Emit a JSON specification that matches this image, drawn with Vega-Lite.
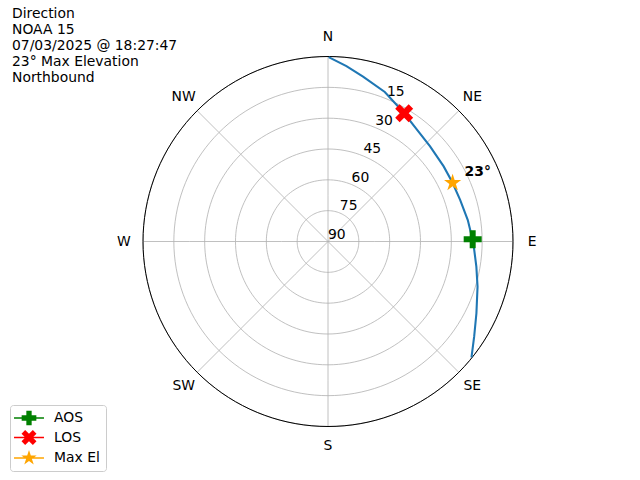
{
  "$schema": "https://vega.github.io/schema/vega-lite/v6.json",
  "width": 640,
  "height": 480,
  "autosize": {"type": "none"},
  "padding": 0,
  "background": "white",
  "config": {
    "view": {"stroke": null},
    "font": "DejaVu Sans",
    "legend": {
      "orient": "none",
      "legendX": 10,
      "legendY": 405,
      "symbolSize": 196,
      "symbolStrokeWidth": 0,
      "symbolOpacity": 1,
      "labelFont": "DejaVu Sans",
      "labelFontSize": 13.9,
      "labelColor": "black",
      "padding": 6,
      "rowPadding": 3.5,
      "labelOffset": 18,
      "symbolOffset": 6,
      "strokeColor": "#cccccc",
      "fillColor": "rgba(255,255,255,0.8)",
      "cornerRadius": 3
    }
  },
  "title": {
    "text": ["Direction", "NOAA 15", "07/03/2025 @ 18:27:47", "23° Max Elevation", "Northbound"],
    "anchor": "start",
    "frame": "group",
    "orient": "top",
    "offset": -96,
    "baseline": "alphabetic",
    "dx": 12,
    "font": "DejaVu Sans",
    "fontSize": 13.9,
    "fontWeight": "normal",
    "color": "black",
    "lineHeight": 16
  },
  "projection": {
    "type": "azimuthalEquidistant",
    "rotate": [0, -90, 0],
    "reflectY": true,
    "scale": 117.77,
    "translate": [328, 241.5]
  },
  "resolve": {"scale": {"color": "independent", "shape": "independent"}},
  "layer": [
    {
      "data": {"graticule": {"extent": [[-180, 0], [180, 90]], "step": [45, 15]}},
      "mark": {"type": "geoshape", "filled": false, "fill": null, "stroke": "#b0b0b0", "strokeWidth": 0.8},
      "encoding": {}
    },
    {
      "data": {"graticule": {"extent": [[-180, 0], [180, 0.001]], "step": [360, 360]}},
      "mark": {"type": "geoshape", "filled": false, "fill": null, "stroke": "black", "strokeWidth": 1},
      "encoding": {}
    },
    {
      "data": {"values": [
        {"label": "90", "az": 22.5, "el": 90},
        {"label": "75", "az": 22.5, "el": 75},
        {"label": "60", "az": 22.5, "el": 60},
        {"label": "45", "az": 22.5, "el": 45},
        {"label": "30", "az": 22.5, "el": 30},
        {"label": "15", "az": 22.5, "el": 15}
      ]},
      "mark": {"type": "text", "align": "left", "baseline": "bottom", "font": "DejaVu Sans", "fontSize": 13.9, "color": "black"},
      "encoding": {
        "longitude": {"field": "az", "type": "quantitative"},
        "latitude": {"field": "el", "type": "quantitative"},
        "text": {"field": "label", "type": "nominal"}
      }
    },
    {
      "data": {"values": [
        {"label": "N", "az": 0, "el": -9.3},
        {"label": "NE", "az": 45, "el": -9.3},
        {"label": "E", "az": 90, "el": -9.3},
        {"label": "SE", "az": 135, "el": -9.3},
        {"label": "S", "az": 180, "el": -9.3},
        {"label": "SW", "az": 225, "el": -9.3},
        {"label": "W", "az": 270, "el": -9.3},
        {"label": "NW", "az": 315, "el": -9.3}
      ]},
      "mark": {"type": "text", "align": "center", "baseline": "middle", "font": "DejaVu Sans", "fontSize": 13.9, "color": "black"},
      "encoding": {
        "longitude": {"field": "az", "type": "quantitative"},
        "latitude": {"field": "el", "type": "quantitative"},
        "text": {"field": "label", "type": "nominal"}
      }
    },
    {
      "data": {"values": [
        {"az": 0.2, "el": 0.3},
        {"az": 6, "el": 4.2},
        {"az": 12, "el": 8.0},
        {"az": 20.8, "el": 12.2},
        {"az": 30.5, "el": 17.3},
        {"az": 37, "el": 20.0},
        {"az": 47, "el": 22.1},
        {"az": 57, "el": 22.9},
        {"az": 64.5, "el": 23.0},
        {"az": 72.5, "el": 22.6},
        {"az": 81.3, "el": 21.2},
        {"az": 90.5, "el": 19.3},
        {"az": 99.6, "el": 16.8},
        {"az": 106.8, "el": 14.0},
        {"az": 115.8, "el": 9.8},
        {"az": 123, "el": 5.2},
        {"az": 128.9, "el": 0.3}
      ]},
      "mark": {"type": "line", "color": "#1f77b4", "strokeWidth": 2.08},
      "encoding": {
        "longitude": {"field": "az", "type": "quantitative"},
        "latitude": {"field": "el", "type": "quantitative"},
        "order": {"field": "az", "type": "quantitative"}
      }
    },
    {
      "data": {"name": "events", "values": [
        {"event": "AOS", "az": 89.1, "el": 19.6},
        {"event": "LOS", "az": 30.7, "el": 17.4},
        {"event": "Max El", "az": 64.8, "el": 23.0}
      ]},
      "layer": [
        {
          "mark": {"type": "point", "filled": true, "opacity": 1, "size": 324},
          "encoding": {
            "longitude": {"field": "az", "type": "quantitative"},
            "latitude": {"field": "el", "type": "quantitative"},
            "shape": {
              "field": "event", "type": "nominal",
              "scale": {
                "domain": ["AOS", "LOS", "Max El"],
                "range": [
                  "M-0.333,-1H0.333V-0.333H1V0.333H0.333V1H-0.333V0.333H-1V-0.333H-0.333Z",
                  "M0.5,-1L1,-0.5L0.5,0L1,0.5L0.5,1L0,0.5L-0.5,1L-1,0.5L-0.5,0L-1,-0.5L-0.5,-1L0,-0.5Z",
                  "M0,-1L0.2245,-0.309L0.951,-0.309L0.363,0.118L0.588,0.809L0,0.382L-0.588,0.809L-0.363,0.118L-0.951,-0.309L-0.2245,-0.309Z"
                ]
              },
              "legend": null
            },
            "color": {
              "field": "event", "type": "nominal",
              "scale": {"domain": ["AOS", "LOS", "Max El"], "range": ["#008000", "#ff0000", "#ffa500"]},
              "legend": null
            }
          }
        },
        {
          "mark": {"type": "point", "filled": true, "opacity": 0},
          "encoding": {
            "longitude": {"field": "az", "type": "quantitative"},
            "latitude": {"field": "el", "type": "quantitative"},
            "shape": {
              "field": "event", "type": "nominal", "title": null,
              "scale": {
                "domain": ["AOS", "LOS", "Max El"],
                "range": [
                  "M-2.14,-0.107H2.14V0.107H-2.14ZM-0.38,-1.05H0.38V-0.38H1.05V0.38H0.38V1.05H-0.38V0.38H-1.05V-0.38H-0.38Z",
                  "M-2.14,-0.107H2.14V0.107H-2.14ZM0.55,-1.07L1.07,-0.55L0.52,0L1.07,0.55L0.55,1.07L0,0.52L-0.55,1.07L-1.07,0.55L-0.52,0L-1.07,-0.55L-0.55,-1.07L0,-0.52Z",
                  "M-2.14,-0.107H2.14V0.107H-2.14ZM0,-1.15L0.26,-0.355L1.094,-0.355L0.418,0.136L0.676,0.93L0,0.44L-0.676,0.93L-0.418,0.136L-1.094,-0.355L-0.26,-0.355Z"
                ]
              }
            },
            "color": {
              "field": "event", "type": "nominal", "title": null,
              "scale": {"domain": ["AOS", "LOS", "Max El"], "range": ["#008000", "#ff0000", "#ffa500"]}
            }
          }
        }
      ],
      "resolve": {"scale": {"color": "independent", "shape": "independent"}}
    },
    {
      "data": {"values": [{"label": "23°", "az": 64.8, "el": 23.0}]},
      "mark": {"type": "text", "align": "left", "baseline": "alphabetic", "dx": 12, "dy": -6.5, "font": "DejaVu Sans", "fontSize": 13.9, "fontWeight": "bold", "color": "black"},
      "encoding": {
        "longitude": {"field": "az", "type": "quantitative"},
        "latitude": {"field": "el", "type": "quantitative"},
        "text": {"field": "label", "type": "nominal"}
      }
    }
  ]
}
